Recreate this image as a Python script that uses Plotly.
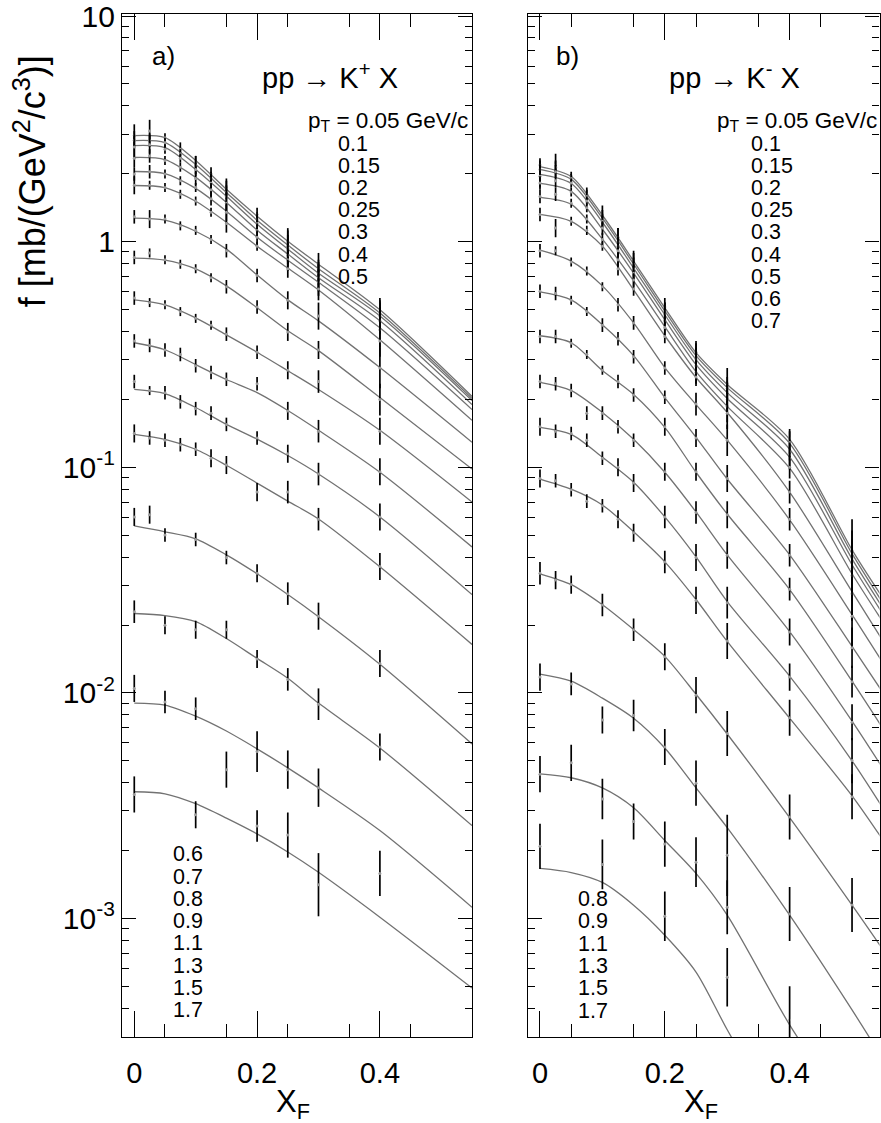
import numpy as np
import plotly.graph_objects as go

# ---------------- data: invariant cross section f vs x_F, log10(f) in mb/(GeV^2/c^3) ----------------
XF_FIT_KP = [0, 0.05, 0.1, 0.15, 0.2, 0.25, 0.3, 0.4, 0.55]
XF_FIT_KM = [0, 0.05, 0.1, 0.15, 0.2, 0.25, 0.3, 0.4, 0.5, 0.55]
XF_DATA_KP = [0, 0.025, 0.05, 0.075, 0.1, 0.125, 0.15, 0.2, 0.25, 0.3, 0.4]
XF_DATA_KM = [0, 0.025, 0.05, 0.075, 0.1, 0.125, 0.15, 0.2, 0.25, 0.3, 0.4, 0.5]

PT_KP = [0.05, 0.1, 0.15, 0.2, 0.25, 0.3, 0.4, 0.5, 0.6, 0.7, 0.8, 0.9, 1.1, 1.3, 1.5, 1.7]
PT_KM = [0.05, 0.1, 0.15, 0.2, 0.25, 0.3, 0.4, 0.5, 0.6, 0.7, 0.8, 0.9, 1.1, 1.3, 1.5, 1.7]

# parametrisation curves, K+ (log10 f at XF_FIT_KP)
LOGF_FIT_KP = [
    [0.470, 0.461, 0.360, 0.232, 0.113, 0.002, -0.100, -0.302, -0.686],
    [0.448, 0.439, 0.342, 0.218, 0.095, -0.015, -0.120, -0.316, -0.695],
    [0.426, 0.417, 0.320, 0.201, 0.077, -0.033, -0.140, -0.329, -0.704],
    [0.373, 0.364, 0.285, 0.174, 0.051, -0.055, -0.160, -0.351, -0.722],
    [0.311, 0.302, 0.236, 0.135, 0.020, -0.082, -0.180, -0.382, -0.744],
    [0.249, 0.240, 0.179, 0.086, -0.020, -0.117, -0.214, -0.435, -0.792],
    [0.104, 0.095, 0.046, -0.033, -0.148, -0.258, -0.351, -0.558, -0.889],
    [-0.073, -0.082, -0.121, -0.196, -0.293, -0.395, -0.483, -0.691, -1.008],
    [-0.258, -0.280, -0.338, -0.413, -0.490, -0.572, -0.655, -0.836, -1.154],
    [-0.448, -0.479, -0.545, -0.611, -0.669, -0.748, -0.836, -1.022, -1.353],
    [-0.655, -0.673, -0.735, -0.810, -0.875, -0.948, -1.030, -1.220, -1.564],
    [-0.854, -0.876, -0.920, -0.991, -1.070, -1.150, -1.229, -1.441, -1.785],
    [-1.260, -1.286, -1.317, -1.388, -1.472, -1.564, -1.662, -1.873, -2.226],
    [-1.648, -1.657, -1.684, -1.759, -1.847, -1.935, -2.045, -2.244, -2.588],
    [-2.045, -2.054, -2.103, -2.169, -2.248, -2.332, -2.421, -2.610, -2.950],
    [-2.438, -2.447, -2.491, -2.555, -2.625, -2.705, -2.795, -2.994, -3.308],
]

# parametrisation curves, K- (log10 f at XF_FIT_KM)
LOGF_FIT_KM = [
    [0.333, 0.289, 0.117, -0.086, -0.293, -0.492, -0.633, -0.876, -1.366, -1.582],
    [0.320, 0.276, 0.104, -0.099, -0.307, -0.505, -0.647, -0.894, -1.383, -1.604],
    [0.298, 0.258, 0.086, -0.117, -0.324, -0.523, -0.669, -0.920, -1.406, -1.626],
    [0.258, 0.223, 0.055, -0.139, -0.346, -0.545, -0.695, -0.955, -1.432, -1.653],
    [0.196, 0.165, 0.011, -0.174, -0.377, -0.576, -0.730, -1.004, -1.472, -1.688],
    [0.121, 0.090, -0.020, -0.214, -0.417, -0.602, -0.757, -1.110, -1.551, -1.772],
    [-0.038, -0.086, -0.196, -0.360, -0.558, -0.722, -0.880, -1.233, -1.653, -1.869],
    [-0.223, -0.258, -0.368, -0.505, -0.691, -0.867, -1.052, -1.388, -1.794, -2.001],
    [-0.417, -0.448, -0.571, -0.677, -0.823, -1.022, -1.207, -1.542, -1.948, -2.160],
    [-0.624, -0.660, -0.757, -0.876, -1.022, -1.198, -1.388, -1.728, -2.125, -2.337],
    [-0.823, -0.854, -0.955, -1.066, -1.220, -1.397, -1.595, -1.926, -2.301, -2.513],
    [-1.052, -1.097, -1.167, -1.286, -1.419, -1.586, -1.772, -2.112, -2.456, -2.654],
    [-1.472, -1.520, -1.609, -1.719, -1.838, -2.006, -2.182, -2.553, -2.941, -3.140],
    [-1.917, -1.948, -2.023, -2.112, -2.244, -2.421, -2.597, -2.985, -3.405, -3.625],
    [-2.359, -2.376, -2.421, -2.509, -2.654, -2.800, -2.985, -3.471, -3.890, -4.111],
    [-2.778, -2.796, -2.840, -2.941, -3.074, -3.237, -3.493, -3.978, -4.464, -4.684],
]

# measured points, K+ (log10 f at XF_DATA_KP, None = not measured)
LOGF_DATA_KP = [
    [0.47, 0.49, 0.46, 0.41, 0.35, 0.30, 0.24, 0.12, 0.00, -0.10, -0.31],
    [0.45, 0.45, 0.44, 0.39, 0.34, 0.28, 0.22, 0.10, -0.02, -0.12, -0.32],
    [0.42, 0.43, 0.41, 0.37, 0.32, 0.26, 0.20, 0.08, -0.03, -0.14, -0.33],
    [0.37, 0.38, 0.36, 0.33, 0.28, 0.23, 0.17, 0.05, -0.06, -0.16, -0.35],
    [0.30, 0.31, 0.30, 0.27, 0.24, 0.19, 0.13, 0.02, -0.08, -0.18, -0.39],
    [0.25, 0.25, 0.24, 0.21, 0.18, 0.13, 0.08, -0.02, -0.12, -0.21, -0.44],
    [0.11, 0.10, 0.10, 0.07, 0.05, 0.01, -0.04, -0.15, -0.26, -0.33, -0.56],
    [-0.07, -0.05, -0.08, -0.10, -0.12, -0.16, -0.20, -0.29, -0.40, -0.48, -0.70],
    [-0.25, -0.27, -0.28, -0.31, -0.34, -0.37, -0.41, -0.49, -0.57, -0.62, -0.84],
    [-0.44, -0.46, -0.48, -0.50, -0.55, -0.58, -0.61, -0.63, -0.75, -0.84, -1.02],
    [-0.62, -0.66, -0.67, -0.71, -0.74, -0.76, -0.81, -0.87, -0.94, -1.03, -1.22],
    [-0.85, -0.87, -0.88, -0.90, -0.92, -0.96, -0.99, -1.11, -1.11, -1.23, -1.44],
    [-1.22, -1.21, -1.30, None, -1.32, None, -1.40, -1.47, -1.56, -1.66, -1.87],
    [-1.64, None, -1.70, None, -1.72, None, -1.72, -1.85, -1.94, -2.05, -2.24],
    [-1.98, None, -2.04, None, -2.07, None, -2.34, -2.26, -2.34, -2.42, -2.80],
    [-2.45, None, None, None, -2.54, None, None, -2.59, -2.63, -2.85, None],
]
# half-width of the error bars in log10 units, K+
LOGERR_KP = [
    [0.05, 0.05, 0.02, 0.03, 0.03, 0.03, 0.04, 0.03, 0.05, 0.05, 0.06],
    [0.04, 0.03, 0.02, 0.02, 0.04, 0.03, 0.03, 0.03, 0.08, 0.04, 0.05],
    [0.05, 0.04, 0.02, 0.02, 0.03, 0.04, 0.07, 0.04, 0.06, 0.05, 0.07],
    [0.04, 0.03, 0.02, 0.02, 0.03, 0.03, 0.05, 0.03, 0.05, 0.06, 0.06],
    [0.03, 0.03, 0.02, 0.02, 0.02, 0.03, 0.04, 0.03, 0.05, 0.06, 0.08],
    [0.04, 0.02, 0.02, 0.02, 0.02, 0.02, 0.04, 0.02, 0.04, 0.05, 0.07],
    [0.03, 0.04, 0.02, 0.02, 0.02, 0.02, 0.03, 0.03, 0.04, 0.06, 0.09],
    [0.03, 0.02, 0.02, 0.02, 0.02, 0.02, 0.03, 0.03, 0.04, 0.04, 0.07],
    [0.03, 0.02, 0.02, 0.02, 0.02, 0.02, 0.03, 0.03, 0.04, 0.05, 0.06],
    [0.03, 0.03, 0.03, 0.03, 0.03, 0.03, 0.03, 0.03, 0.04, 0.05, 0.06],
    [0.03, 0.02, 0.03, 0.03, 0.03, 0.03, 0.03, 0.03, 0.04, 0.05, 0.06],
    [0.04, 0.03, 0.03, 0.03, 0.03, 0.04, 0.04, 0.04, 0.05, 0.05, 0.06],
    [0.04, 0.04, 0.03, 0.0, 0.03, 0.0, 0.03, 0.04, 0.05, 0.06, 0.06],
    [0.05, 0.0, 0.04, 0.0, 0.04, 0.0, 0.04, 0.04, 0.05, 0.07, 0.06],
    [0.06, 0.0, 0.05, 0.0, 0.05, 0.0, 0.08, 0.09, 0.085, 0.085, 0.10],
    [0.08, 0.0, 0.0, 0.0, 0.06, 0.0, 0.0, 0.07, 0.10, 0.14, 0.0],
]

# measured points, K- (log10 f at XF_DATA_KM)
LOGF_DATA_KM = [
    [0.34, 0.35, 0.29, 0.21, 0.12, 0.02, -0.08, -0.29, -0.49, -0.63, -0.87, -1.37],
    [0.32, 0.33, 0.28, 0.20, 0.10, 0.00, -0.10, -0.31, -0.51, -0.65, -0.89, -1.40],
    [0.29, 0.31, 0.26, 0.18, 0.09, -0.02, -0.12, -0.32, -0.52, -0.68, -0.93, -1.42],
    [0.26, 0.27, 0.22, 0.15, 0.06, -0.04, -0.14, -0.35, -0.55, -0.70, -0.96, -1.45],
    [0.20, 0.21, 0.17, 0.10, 0.01, -0.08, -0.17, -0.38, -0.58, -0.73, -1.00, -1.48],
    [0.12, 0.06, 0.09, 0.05, -0.02, -0.12, -0.21, -0.42, -0.60, -0.76, -1.11, -1.56],
    [-0.04, -0.04, -0.09, -0.13, -0.20, -0.28, -0.36, -0.56, -0.72, -0.88, -1.23, -1.66],
    [-0.22, -0.23, -0.26, -0.31, -0.37, -0.43, -0.51, -0.69, -0.87, -1.05, -1.39, -1.80],
    [-0.42, -0.42, -0.45, -0.50, -0.57, -0.62, -0.68, -0.82, -1.02, -1.21, -1.54, -1.95],
    [-0.62, -0.63, -0.66, -0.76, -0.76, -0.82, -0.88, -1.02, -1.20, -1.39, -1.73, -2.13],
    [-0.82, -0.84, -0.85, -0.88, -0.96, -1.00, -1.07, -1.22, -1.40, -1.60, -1.93, -2.30],
    [-1.05, -1.06, -1.10, -1.15, -1.17, -1.23, -1.29, -1.42, -1.59, -1.77, -2.11, -2.46],
    [-1.47, -1.50, -1.52, None, -1.61, None, -1.72, -1.84, -2.01, -2.18, -2.55, -2.94],
    [-1.93, None, -1.96, None, -2.12, None, -2.10, -2.24, -2.40, -2.72, -2.98, None],
    [-2.36, None, -2.31, None, -2.47, None, -2.57, -2.67, -2.75, -2.95, -3.45, None],
    [-2.68, None, None, None, -2.76, None, None, -2.99, None, -3.26, None, None],
]
# half-width of the error bars in log10 units, K-
LOGERR_KM = [
    [0.03, 0.04, 0.02, 0.03, 0.04, 0.04, 0.04, 0.04, 0.05, 0.07, 0.04, 0.14],
    [0.04, 0.03, 0.02, 0.03, 0.04, 0.06, 0.05, 0.04, 0.06, 0.05, 0.05, 0.12],
    [0.05, 0.03, 0.02, 0.02, 0.03, 0.04, 0.05, 0.05, 0.05, 0.06, 0.04, 0.10],
    [0.03, 0.03, 0.02, 0.02, 0.03, 0.03, 0.04, 0.04, 0.05, 0.06, 0.05, 0.12],
    [0.03, 0.03, 0.02, 0.02, 0.03, 0.03, 0.03, 0.04, 0.05, 0.07, 0.05, 0.11],
    [0.03, 0.04, 0.02, 0.02, 0.02, 0.03, 0.03, 0.03, 0.04, 0.07, 0.05, 0.12],
    [0.03, 0.02, 0.02, 0.02, 0.02, 0.03, 0.03, 0.03, 0.05, 0.07, 0.05, 0.13],
    [0.03, 0.03, 0.02, 0.02, 0.03, 0.03, 0.03, 0.03, 0.04, 0.06, 0.05, 0.09],
    [0.03, 0.03, 0.02, 0.02, 0.02, 0.03, 0.03, 0.04, 0.04, 0.06, 0.05, 0.07],
    [0.03, 0.03, 0.03, 0.03, 0.03, 0.03, 0.03, 0.04, 0.05, 0.06, 0.06, 0.08],
    [0.04, 0.03, 0.03, 0.03, 0.03, 0.04, 0.04, 0.05, 0.06, 0.07, 0.06, 0.10],
    [0.04, 0.03, 0.03, 0.03, 0.03, 0.04, 0.04, 0.05, 0.06, 0.08, 0.08, 0.10],
    [0.05, 0.04, 0.04, 0.0, 0.05, 0.0, 0.05, 0.06, 0.08, 0.10, 0.10, 0.12],
    [0.06, 0.0, 0.05, 0.0, 0.06, 0.0, 0.07, 0.08, 0.10, 0.18, 0.12, 0.0],
    [0.08, 0.0, 0.08, 0.0, 0.09, 0.0, 0.08, 0.10, 0.11, 0.12, 0.15, 0.0],
    [0.10, 0.0, 0.0, 0.0, 0.11, 0.0, 0.0, 0.11, 0.0, 0.13, 0.0, 0.0],
]

PT_LIST_TOP_KP = ["0.1", "0.15", "0.2", "0.25", "0.3", "0.4", "0.5"]
PT_LIST_BOT_KP = ["0.6", "0.7", "0.8", "0.9", "1.1", "1.3", "1.5", "1.7"]
PT_LIST_TOP_KM = ["0.1", "0.15", "0.2", "0.25", "0.3", "0.4", "0.5", "0.6", "0.7"]
PT_LIST_BOT_KM = ["0.8", "0.9", "1.1", "1.3", "1.5", "1.7"]

# ---------------- figure ----------------
W, H = 881, 1123
MT, MB = 10, 86
FONT = "Liberation Sans, Arial, Helvetica, sans-serif"
FIT_COLOR = "#727272"
LIST_SIZE = 21.5

fig = go.Figure()


def add_panel(xaxis, yaxis, xf_fit, fits, xf_data, data, errs):
    for fit in fits:
        fig.add_trace(go.Scatter(
            x=xf_fit, y=[10 ** v for v in fit], xaxis=xaxis, yaxis=yaxis,
            mode="lines", line=dict(color=FIT_COLOR, width=1.3, shape="spline", smoothing=0.8),
            hoverinfo="skip", showlegend=False, cliponaxis=True))
    for pts, err in zip(data, errs):
        xs, ys, up, dn = [], [], [], []
        for x, v, e in zip(xf_data, pts, err):
            if v is None:
                continue
            f = 10 ** v
            xs.append(x)
            ys.append(f)
            up.append(f * (10 ** e - 1))
            dn.append(f * (1 - 10 ** (-e)))
        fig.add_trace(go.Scatter(
            x=xs, y=ys, xaxis=xaxis, yaxis=yaxis, mode="markers",
            marker=dict(size=3, color="#9a9a9a"),
            error_y=dict(type="data", array=up, arrayminus=dn, symmetric=False,
                         color="black", thickness=1.7, width=0),
            hoverinfo="skip", showlegend=False))


add_panel("x", "y", XF_FIT_KP, LOGF_FIT_KP, XF_DATA_KP, LOGF_DATA_KP, LOGERR_KP)
add_panel("x2", "y2", XF_FIT_KM, LOGF_FIT_KM, XF_DATA_KM, LOGF_DATA_KM, LOGERR_KM)

# axes
decades = [-3, -2, -1, 0, 1]
ytv = [10.0 ** d for d in decades]
ytt = ["10<sup>-3</sup>", "10<sup>-2</sup>", "10<sup>-1</sup>", "1", "10"]
yminor = [m * 10.0 ** d for d in range(-4, 1) for m in range(2, 10)]
x_labelled = [0, 0.2, 0.4]
x_long = [0.1, 0.3, 0.5]           # long ticks without labels
x_short = [0.05, 0.15, 0.25, 0.35, 0.45, 0.55]

common_y = dict(type="log", range=[-3.525, 1.009], showgrid=False, zeroline=False,
                showline=True, linecolor="black", linewidth=1.3, mirror="allticks",
                ticks="inside", ticklen=14, tickwidth=1.3, tickcolor="black",
                tickmode="array", tickvals=ytv, ticklabeloverflow="allow",
                minor=dict(ticks="inside", ticklen=7, tickwidth=1.2, tickcolor="black",
                           tickmode="array", tickvals=yminor, showgrid=False),
                tickfont=dict(family=FONT, size=30, color="black"))
common_x = dict(showgrid=False, zeroline=False, showline=True, linecolor="black",
                linewidth=1.3, mirror="allticks", ticks="inside", ticklen=26,
                tickwidth=1.3, tickcolor="black", tickmode="array", tickvals=x_labelled,
                ticktext=[str(v) for v in x_labelled],
                minor=dict(ticks="inside", ticklen=13, tickwidth=1.2, tickcolor="black",
                           tickmode="array", tickvals=x_short, showgrid=False),
                tickfont=dict(family=FONT, size=29, color="black"),
                ticklabelstandoff=10)
# overlay axes carrying the unlabelled long ticks
long_x = dict(showgrid=False, zeroline=False, showline=False, mirror="allticks",
              ticks="inside", ticklen=26, tickwidth=1.3, tickcolor="black",
              tickmode="array", tickvals=x_long, showticklabels=False, fixedrange=True)

RANGE_L = [-0.02, 0.55]
RANGE_R = [-0.02, 0.544]
DOM_L = [122 / W, 472 / W]
DOM_R = [527.5 / W, 879.5 / W]

fig.update_layout(
    width=W, height=H, margin=dict(l=0, r=0, t=MT, b=MB),
    paper_bgcolor="white", plot_bgcolor="white",
    xaxis=dict(common_x, domain=DOM_L, range=RANGE_L, anchor="y"),
    yaxis=dict(common_y, ticktext=ytt, anchor="x", domain=[0, 1]),
    xaxis2=dict(common_x, domain=DOM_R, range=RANGE_R, anchor="y2"),
    yaxis2=dict(common_y, showticklabels=False, anchor="x2", domain=[0, 1]),
    xaxis3=dict(long_x, domain=DOM_L, range=RANGE_L, anchor="y", overlaying="x"),
    xaxis4=dict(long_x, domain=DOM_R, range=RANGE_R, anchor="y2", overlaying="x2"),
)


def pos(px, py):
    return px / W, (H - MB - py) / (H - MT - MB)


annots = []


def text(px, py, s, size, xanchor="left", angle=0, box_h=None):
    x, y = pos(px, py)
    a = dict(x=x, y=y, xref="paper", yref="paper", text=s, showarrow=False,
             xanchor=xanchor, yanchor="middle", textangle=angle, borderpad=0,
             font=dict(family=FONT, size=size, color="black"))
    if box_h is not None:
        a["height"] = box_h
    annots.append(a)


# panel tags and reactions
text(151, 52, "a)", 26)
text(555, 52, "b)", 26)
text(330, 72, "pp \u2192 K<sup>+</sup> X", 29, "center")
text(734, 72, "pp \u2192 K<sup>-</sup> X", 29, "center")

# p_T lists
text(469, 118, "p<sub>T</sub> = 0.05 GeV/c", LIST_SIZE + 1, "right", box_h=21)
text(878, 118, "p<sub>T</sub> = 0.05 GeV/c", LIST_SIZE + 1, "right", box_h=21)
for i, s in enumerate(PT_LIST_TOP_KP):
    text(337, 140 + 22.2 * i, s, LIST_SIZE, box_h=21)
for i, s in enumerate(PT_LIST_TOP_KM):
    text(750, 140 + 22.2 * i, s, LIST_SIZE, box_h=21)
for i, s in enumerate(PT_LIST_BOT_KP):
    text(172, 853 + 22.4 * i, s, LIST_SIZE, box_h=21)
for i, s in enumerate(PT_LIST_BOT_KM):
    text(577, 898 + 22.4 * i, s, LIST_SIZE, box_h=21)

# axis titles
text(30, 178, "f [mb/(GeV<sup>2</sup>/c<sup>3</sup>)]", 36, "center", -90)
text(293, 1104, "X<sub>F</sub>", 31, "center")
text(701, 1104, "X<sub>F</sub>", 31, "center")

fig.update_layout(annotations=annots)
fig.write_html("out.html")
